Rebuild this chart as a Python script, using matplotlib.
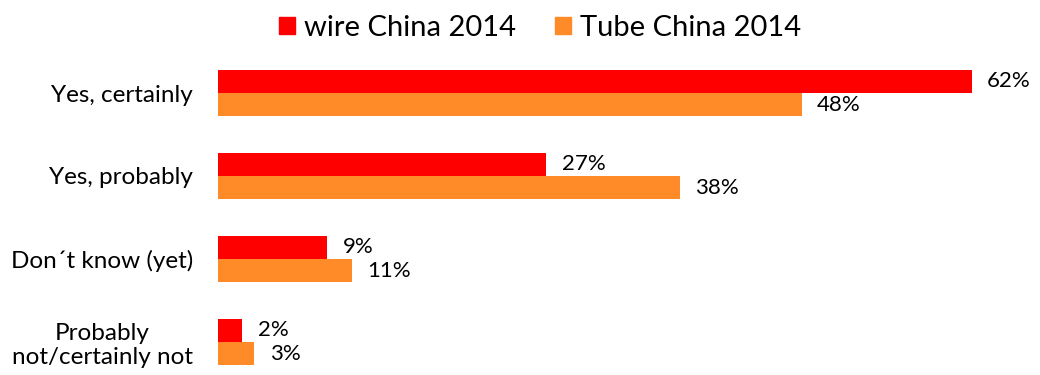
import matplotlib.pyplot as plt
import numpy as np
from matplotlib.patches import Patch

categories = ["Yes, certainly", "Yes, probably", "Don\u00b4t know (yet)",
              "Probably\nnot/certainly not"]
wire_2014 = [62, 27, 9, 2]
tube_2014 = [48, 38, 11, 3]
series_names = ["wire China 2014", "Tube China 2014"]

RED = "#FF0000"
ORANGE = "#FF8A28"

plt.rcParams['font.family'] = ['Lato', 'DejaVu Sans']

fig = plt.figure(figsize=(10.4, 3.75), dpi=100)
ax = fig.add_axes([218 / 1040, 0, 1 - 218 / 1040, 1 - 51.5 / 375])

y = np.arange(len(categories))
h = 0.283
ax.barh(y - h / 2, wire_2014, height=h, color=RED)
ax.barh(y + h / 2, tube_2014, height=h, color=ORANGE)

# value labels just right of each bar
for yi, v in zip(y - h / 2, wire_2014):
    ax.annotate(f"{v}%", (v, yi), xytext=(11, 0), textcoords="offset points",
                va="center", ha="left", fontsize=16)
for yi, v in zip(y + h / 2, tube_2014):
    ax.annotate(f"{v}%", (v, yi), xytext=(11, 0), textcoords="offset points",
                va="center", ha="left", fontsize=16)

ax.set_xlim(0, (1040 - 218) / 12.16)
ax.set_ylim(3 + 33 / 83, -0.5)
ax.set_yticks(y)
ax.set_yticklabels(categories, fontsize=17.5, multialignment="center")
ax.tick_params(axis="y", length=0, pad=18)
ax.set_xticks([])
for s in ax.spines.values():
    s.set_visible(False)

handles = [Patch(color=RED), Patch(color=ORANGE)]
fig.legend(handles, series_names, loc="upper center", bbox_to_anchor=(0.519, 1.03),
           ncol=2, frameon=False, fontsize=21, handlelength=0.55, handleheight=0.55,
           handletextpad=0.3, columnspacing=1.35)

fig.savefig("out.png", dpi=100)
